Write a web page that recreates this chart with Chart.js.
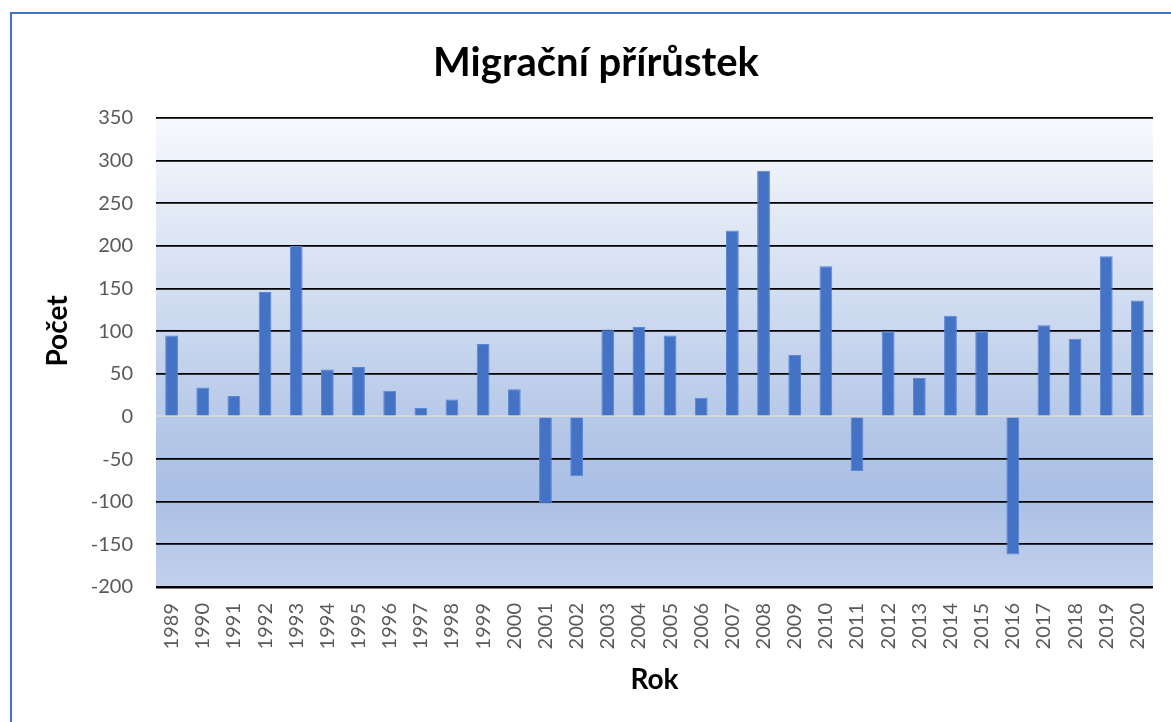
<!DOCTYPE html>
<html>
<head>
<meta charset="utf-8">
<script src="https://cdn.jsdelivr.net/npm/chart.js@4"></script>
<style>
    html, body { margin: 0; padding: 0; background: #fff; overflow: hidden; }
    #frame {
        position: absolute; left: 10px; top: 12px;
        width: 1200px; height: 750px;
        border-left: 2px solid #4472C4; border-top: 2px solid #4472C4;
    }
    #wrap { position: absolute; left: -1px; top: 0; width: 1170px; height: 708px; }
</style>
</head>
<body>
<div id="frame"><div id="wrap"><canvas id="migrace"></canvas></div></div>
<script>
const years = ['1989', '1990', '1991', '1992', '1993', '1994', '1995', '1996', '1997', '1998',
    '1999', '2000', '2001', '2002', '2003', '2004', '2005', '2006', '2007', '2008',
    '2009', '2010', '2011', '2012', '2013', '2014', '2015', '2016', '2017', '2018',
    '2019', '2020'];
const increase = [95, 34, 24, 146, 200, 55, 58, 30, 10, 20,
    85, 32, -102, -70, 102, 105, 95, 22, 218, 288,
    72, 176, -64, 100, 45, 118, 100, -162, 107, 91,
    188, 136];
const yTicks = [350, 300, 250, 200, 150, 100, 50, 0, -50, -100, -150, -200];

const FONT = 'Lato, "Open Sans", sans-serif';

// plot area gradient + y axis title
const plotBackground = {
    id: 'plotBackground',
    beforeDraw(chart) {
        const { ctx, chartArea: a } = chart;
        const g = ctx.createLinearGradient(0, a.top, 0, a.bottom);
        g.addColorStop(0, '#f7f9fd');
        g.addColorStop(0.63, '#b8cae9');
        g.addColorStop(0.8, '#aabfe5');
        g.addColorStop(1, '#c2d1ec');
        ctx.save();
        ctx.fillStyle = g;
        ctx.fillRect(a.left, a.top, a.right - a.left, a.bottom - a.top);
        ctx.restore();
    },
    afterDraw(chart) {
        const ctx = chart.ctx;
        ctx.save();
        ctx.translate(47, 317);
        ctx.rotate(-Math.PI / 2);
        ctx.font = 'bold 28px ' + FONT;
        ctx.fillStyle = '#000';
        ctx.textAlign = 'center';
        ctx.textBaseline = 'middle';
        ctx.fillText('Počet', 0, 0);
        ctx.restore();
    }
};

new Chart(document.getElementById('migrace'), {
    type: 'bar',
    data: {
        labels: years,
        datasets: [{
            label: 'Migrační přírůstek',
            data: increase,
            backgroundColor: '#4472C4',
            borderColor: '#5a86d2',
            borderWidth: 1,
            barPercentage: 0.41,
            categoryPercentage: 1.0
        }]
    },
    options: {
        responsive: true,
        maintainAspectRatio: false,
        animation: false,
        layout: { padding: { left: 28, right: 28, top: 0, bottom: 5 } },
        plugins: {
            legend: { display: false },
            tooltip: { enabled: false },
            title: {
                display: true,
                text: 'Migrační přírůstek',
                color: '#000',
                font: { family: FONT, size: 40, weight: 'bold', lineHeight: 1.2 },
                padding: { top: 25, bottom: 31 }
            }
        },
        scales: {
            x: {
                grid: { display: false, drawTicks: false },
                border: { display: false },
                ticks: {
                    color: '#595959',
                    font: { family: FONT, size: 20 },
                    minRotation: 90,
                    maxRotation: 90,
                    padding: 16,
                    autoSkip: false
                },
                title: {
                    display: true,
                    text: 'Rok',
                    color: '#000',
                    font: { family: FONT, size: 28, weight: 'bold', lineHeight: 1.2 },
                    padding: { top: 0, bottom: 20 }
                },
                afterFit(scale) { scale.height = 130; }
            },
            y: {
                min: -200,
                max: 350,
                afterBuildTicks(scale) { scale.ticks = yTicks.map(v => ({ value: v })); },
                grid: {
                    drawTicks: false,
                    color: c => c.tick && c.tick.value === 0 ? '#d6d6d6' : '#000',
                    lineWidth: c => c.tick && c.tick.value === -200 ? 2.4 : (c.tick && c.tick.value === 0 ? 2 : 1.8)
                },
                border: { display: false },
                ticks: {
                    color: '#595959',
                    font: { family: FONT, size: 20 },
                    padding: 23
                },
                afterFit(scale) { scale.width = 117; }
            }
        }
    },
    plugins: [plotBackground]
});
</script>
</body>
</html>
